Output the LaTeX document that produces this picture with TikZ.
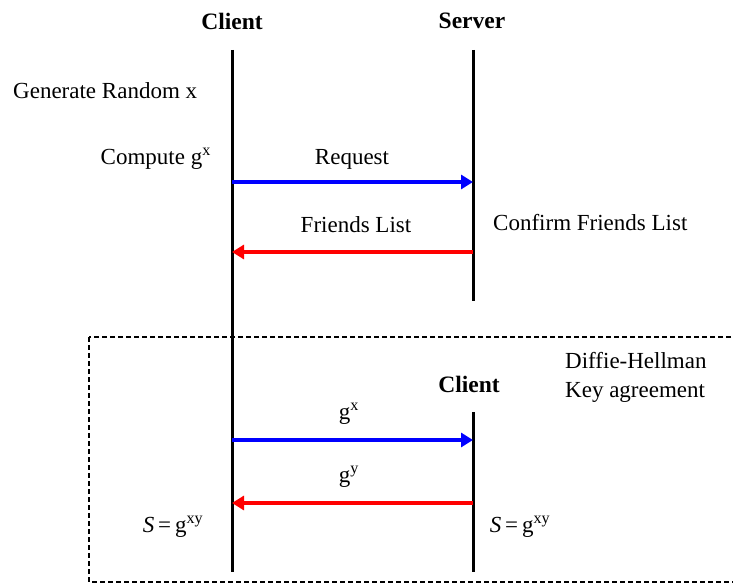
\documentclass[tikz,border=0pt]{standalone}
\usepackage{fontspec}
\setmainfont{Liberation Serif}
\usetikzlibrary{arrows.meta}
\begin{document}
\begin{tikzpicture}[x=1pt,y=-1pt,
  lbl/.style={font=\fontsize{23}{26}\selectfont, inner sep=0pt},
  head/.style={font=\bfseries\fontsize{23.5}{26}\selectfont, inner sep=0pt},
  life/.style={line width=3pt},
  msgb/.style={draw=blue, line width=4pt, -{Triangle[length=12pt,width=14pt]}},
  msgr/.style={draw=red, line width=4pt, -{Triangle[length=12pt,width=14pt]}}]
\useasboundingbox (0,0) rectangle (733,585);
\clip (0,0) rectangle (733,585);
% headers
\node[head] (hc) at (232,21) {Client};
\node[head] (hs) at (472,21) {Server};
% lifelines
\coordinate (c1) at (232,50);
\coordinate (c2) at (232,572);
\coordinate (s1) at (473,50);
\coordinate (s2) at (473,301);
\draw[life] (c1) -- (c2);
\draw[life] (s1) -- (s2);
% labels top
\node[lbl, anchor=west] (gen) at (13,91) {Generate Random x};
\node[lbl, anchor=east] (comp) at (211,159) {Compute g\textsuperscript{x}};
\node[lbl] (req) at (352,159) {Request};
\coordinate (a1s) at (232,182);
\coordinate (a1e) at (473,182);
\draw[msgb] (a1s) -- (a1e);
\node[lbl] (fl) at (356,225) {Friends List};
\node[lbl, anchor=west] (cfl) at (493,223) {Confirm Friends List};
\coordinate (a2s) at (473,252);
\coordinate (a2e) at (232,252);
\draw[msgr] (a2s) -- (a2e);
% dashed box
\draw[line width=1.2pt, dash pattern=on 5pt off 3pt] (89,337) rectangle (745,582);
\node[lbl, anchor=west] (dh1) at (565,361) {Diffie-Hellman};
\node[lbl, anchor=west] (dh2) at (565,392) {Key agreement};
\node[head] (hc2) at (469,384) {Client};
\coordinate (k1) at (473,412);
\coordinate (k2) at (473,572);
\draw[life] (k1) -- (k2);
\node[lbl] (gx) at (349,414) {g\textsuperscript{x}};
\coordinate (b1s) at (232,440);
\coordinate (b1e) at (473,440);
\draw[msgb] (b1s) -- (b1e);
\node[lbl] (gy) at (349,477) {g\textsuperscript{y}};
\coordinate (b2s) at (473,503);
\coordinate (b2e) at (232,503);
\draw[msgr] (b2s) -- (b2e);
\node[lbl] (sl) at (173,527) {\textit{S}\,=\,g\textsuperscript{xy}};
\node[lbl] (sr) at (520,527) {\textit{S}\,=\,g\textsuperscript{xy}};
\end{tikzpicture}
\end{document}
